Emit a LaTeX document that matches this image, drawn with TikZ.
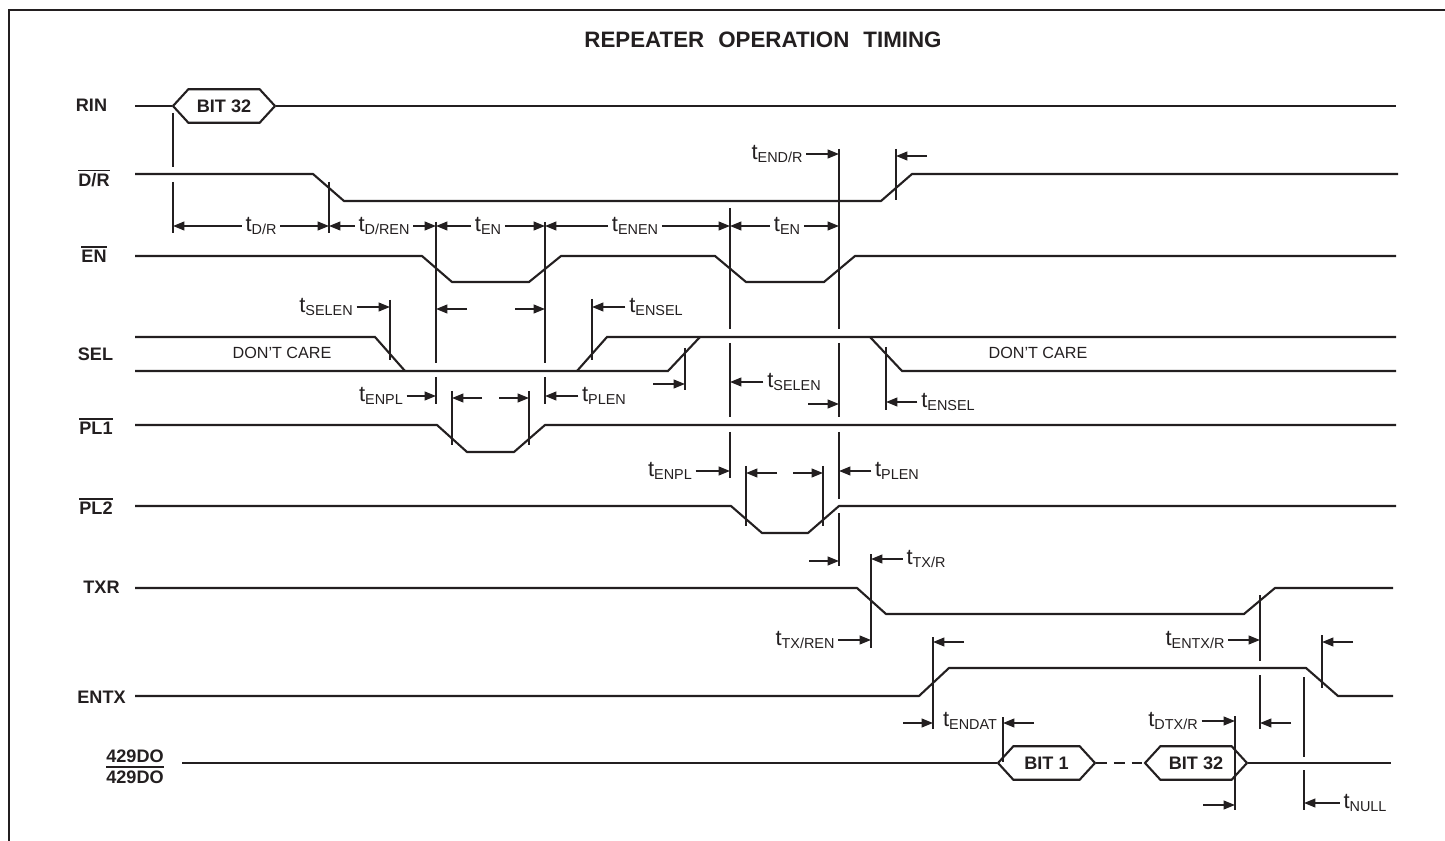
\documentclass[tikz,border=0pt]{standalone}
\usepackage{fontspec}
\setmainfont{Liberation Sans}
\usetikzlibrary{arrows.meta,shapes.symbols}
\definecolor{ink}{HTML}{231F20}
\newcommand\tsub[1]{t\raisebox{-2pt}{\fontsize{8.2}{9}\selectfont #1}}
\newcommand\negsig[1]{\setbox0\hbox{#1}\rlap{\rule[\dimexpr\ht0+1.5pt\relax]{\wd0}{0.9pt}}\box0}

\begin{document}
\begin{tikzpicture}[x=0.02cm,y=-0.02cm,
  sig/.style={draw=ink,line width=1.2pt},
  mk/.style={draw=ink,line width=1.2pt},
  dim/.style={draw=ink,line width=1pt,-{Triangle[length=6.5pt,width=5pt]}},
  lbl/.style={anchor=base,text=ink,font=\fontsize{10.3}{12}\selectfont\bfseries},
  tl/.style={text=ink,inner sep=2pt,font=\fontsize{12.5}{14}\selectfont},
  dc/.style={text=ink,font=\fontsize{9.2}{11}\selectfont},
  bus/.style={signal,signal to=east and west,signal pointer angle=95,draw=ink,line width=1.2pt,
    inner sep=0pt,minimum height=0.67cm,text=ink,font=\fontsize{10.3}{12}\selectfont\bfseries}]
  \useasboundingbox (0,0) rectangle (1445,841);
  % frame and title
  \draw[ink,line width=1.7pt] (9,841) -- (9,10) -- (1445,10);
  \node[text=ink,font=\fontsize{12.7}{14}\selectfont\bfseries] (title) at (763,40)
    {REPEATER\hspace{8pt}OPERATION\hspace{8pt}TIMING};
  % signal names
  \node[lbl] (rin) at (91.5,112) {RIN};
  \node[lbl] (dr) at (94,187) {\negsig{D/R}};
  \node[lbl] (en) at (94,263) {\negsig{EN}};
  \node[lbl] (sel) at (95.5,361) {SEL};
  \node[lbl] (pla) at (96,435) {\negsig{PL1}};
  \node[lbl] (plb) at (96,515) {\negsig{PL2}};
  \node[lbl] (txr) at (101.5,593) {TXR};
  \node[lbl] (entx) at (101.5,703) {ENTX};
  \node[lbl] (dop) at (135,762) {429DO};
  \node[lbl] (don) at (135,783) {\negsig{429DO}};
  % waveforms
  \node[bus,minimum width=2.04cm] (bitr) at (224,106) {BIT 32};
  \draw[sig] (135,106) -- (bitr.west);
  \draw[sig] (bitr.east) -- (1396,106);
  \draw[sig] (135,174) -- (313,174) -- (344,201) -- (881,201) -- (912,174) -- (1398,174);
  \draw[sig] (135,256) -- (422,256) -- (452,282) -- (529,282) -- (561,256) -- (715,256)
    -- (746,282) -- (824,282) -- (855,256) -- (1396,256);
  \draw[sig] (135,337) -- (375,337) -- (405,371);
  \draw[sig] (135,371) -- (668,371) -- (700,337);
  \draw[sig] (577,371) -- (607,337) -- (1396,337);
  \draw[sig] (870,337) -- (902,371) -- (1396,371);
  \node[dc] (dca) at (282,353) {DON'T CARE};
  \node[dc] (dcb) at (1038,353) {DON'T CARE};
  \draw[sig] (135,425) -- (437,425) -- (467,452) -- (514,452) -- (545,425) -- (1396,425);
  \draw[sig] (135,506) -- (731,506) -- (762,533) -- (808,533) -- (839,506) -- (1396,506);
  \draw[sig] (135,588) -- (857,588) -- (886,614) -- (1244,614) -- (1275,588) -- (1393,588);
  \draw[sig] (135,696) -- (919,696) -- (949,668) -- (1306,668) -- (1338,696) -- (1393,696);
  \node[bus,minimum width=1.94cm] (bita) at (1046.5,763) {BIT 1};
  \node[bus,minimum width=2.04cm] (bitb) at (1196,763) {BIT 32};
  \draw[sig] (182,763) -- (bita.west);
  \draw[sig,dash pattern=on 6pt off 4pt] (bita.east) -- (bitb.west);
  \draw[sig] (bitb.east) -- (1391,763);
  % timing marks
  \foreach \x/\a/\b in {173/113/167,173/182/233,329/182/233,390/300/360,436/222/363,436/377/404,
    452/391/445,529/391/445,545/222/363,545/377/404,592/299/360,685/348/390,730/208/329,
    730/343/417,730/432/478,746/466/526,823/466/526,839/149/329,839/343/417,839/432/499,
    839/513/566,886/347/410,896/149/200,871/554/648,933/637/729,1003/717/762,1235/716/810,
    1260/595/661,1260/675/729,1322/635/688,1304/677/757,1304/770/810}
    \draw[mk] (\x,\a) -- (\x,\b);
  \foreach \n/\x in {1/173,2/329,3/390,4/436,5/452,6/529,7/545,8/592,9/685,10/730,11/746,
    12/823,13/839,14/886,15/896,16/871,17/933,18/1003,19/1235,20/1260,21/1322,22/1304}
    \coordinate (m\n) at (\x,0);
  % free ends of the short arrows
  \coordinate (a1) at (927,156);  \coordinate (a2) at (467,309);  \coordinate (a3) at (515,309);
  \coordinate (a4) at (653,384);  \coordinate (a5) at (482,398);  \coordinate (a6) at (499,398);
  \coordinate (a7) at (808,404);  \coordinate (a8) at (777,473);  \coordinate (a9) at (793,473);
  \coordinate (a10) at (809,561); \coordinate (a11) at (964,642); \coordinate (a12) at (1353,642);
  \coordinate (a13) at (903,723); \coordinate (a14) at (1034,723); \coordinate (a15) at (1291,723);
  \coordinate (a16) at (1203,805);
  \foreach \a/\m in {a1/m15,a2/m4,a3/m7,a4/m9,a5/m5,a6/m6,a7/m13,a8/m11,a9/m12,a10/m13,
    a11/m17,a12/m21,a13/m17,a14/m18,a15/m20,a16/m19}
    \draw[dim] (\a) -- (\a -| \m);
  % labels
  \node[tl] (tdr) at (261,226) {\tsub{D/R}};
  \node[tl] (tdren) at (384,226) {\tsub{D/REN}};
  \node[tl] (tena) at (488,226) {\tsub{EN}};
  \node[tl] (tenen) at (635,226) {\tsub{ENEN}};
  \node[tl] (tenb) at (787,226) {\tsub{EN}};
  \node[tl] (tendr) at (777,154) {\tsub{END/R}};
  \node[tl] (tselena) at (326,307) {\tsub{SELEN}};
  \node[tl] (tensela) at (656,307) {\tsub{ENSEL}};
  \node[tl] (tselenb) at (794,382) {\tsub{SELEN}};
  \node[tl] (tenpla) at (381,396) {\tsub{ENPL}};
  \node[tl] (tplena) at (604,396) {\tsub{PLEN}};
  \node[tl] (tenselb) at (948,402) {\tsub{ENSEL}};
  \node[tl] (tenplb) at (670,471) {\tsub{ENPL}};
  \node[tl] (tplenb) at (897,471) {\tsub{PLEN}};
  \node[tl] (ttxr) at (926,559) {\tsub{TX/R}};
  \node[tl] (ttxren) at (805,640) {\tsub{TX/REN}};
  \node[tl] (tentxr) at (1195,640) {\tsub{ENTX/R}};
  \node[tl] (tendat) at (970,721) {\tsub{ENDAT}};
  \node[tl] (tdtxr) at (1173,721) {\tsub{DTX/R}};
  \node[tl] (tnull) at (1365,803) {\tsub{NULL}};
  % dimension arrows
  \foreach \l/\m in {tdr/m1,tdren/m2,tena/m4,tenen/m7,tenb/m10,tensela/m8,tselenb/m10,
    tplena/m7,tenselb/m14,tplenb/m13,ttxr/m16,tnull/m22}
    \draw[dim] (\l.west) -- (\l.west -| \m);
  \foreach \l/\m in {tdr/m2,tdren/m4,tena/m7,tenen/m10,tenb/m13,tendr/m13,tselena/m3,
    tenpla/m4,tenplb/m10,ttxren/m16,tentxr/m20,tdtxr/m19}
    \draw[dim] (\l.east) -- (\l.east -| \m);
\end{tikzpicture}
\end{document}
